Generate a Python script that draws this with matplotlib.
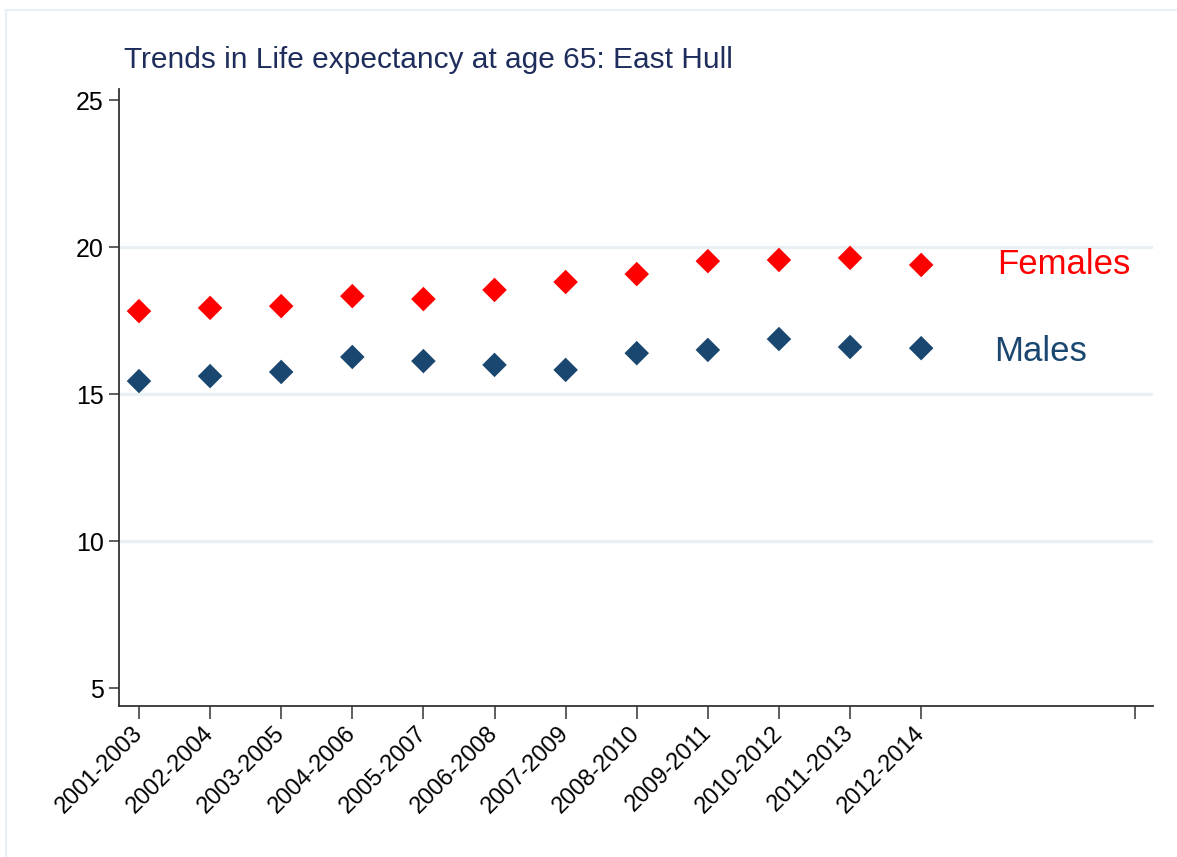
import matplotlib
matplotlib.use("Agg")
import matplotlib.pyplot as plt
from matplotlib.lines import Line2D

periods = ["2001-2003", "2002-2004", "2003-2005", "2004-2006", "2005-2007", "2006-2008",
           "2007-2009", "2008-2010", "2009-2011", "2010-2012", "2011-2013", "2012-2014"]
females = [17.82, 17.93, 17.99, 18.33, 18.23, 18.54, 18.81, 19.08, 19.52, 19.56, 19.63, 19.39]
males = [15.44, 15.61, 15.75, 16.26, 16.12, 15.99, 15.82, 16.39, 16.50, 16.87, 16.60, 16.56]
yticks = [5, 10, 15, 20, 25]
grid_vals = [10, 15, 20]

RED = "#ff0000"
NAVY = "#1a476f"
TITLE = "#1f2d5c"
FRAME = "#e8f0f3"

plt.rcParams['font.family'] = ['Liberation Sans', 'DejaVu Sans']

W, H = 1177, 857
fig = plt.figure(figsize=(W / 100, H / 100), dpi=100)
# outer graph-region border (only top and left visible in the reference)
fig.add_artist(Line2D([6 / W, 1.0], [1 - 10 / H, 1 - 10 / H], transform=fig.transFigure,
                      color=FRAME, linewidth=1.6))
fig.add_artist(Line2D([6 / W, 6 / W], [0.0, 1 - 10 / H], transform=fig.transFigure,
                      color=FRAME, linewidth=1.6))

ax = fig.add_axes([0.1011, 0.1762, 0.8785, 0.7199])

x = list(range(len(periods)))
for g in grid_vals:
    ax.axhline(g, color=FRAME, linewidth=2.2, zorder=0)

ax.scatter(x, females, marker="D", s=12.5**2, color=RED, edgecolors="none", zorder=3)
ax.scatter(x, males, marker="D", s=12.5**2, color=NAVY, edgecolors="none", zorder=3)

ax.text(12.07, females[-1], "Females", color=RED, fontsize=25, va="center", ha="left")
ax.text(12.02, males[-1] - 0.1, "Males", color=NAVY, fontsize=25, va="center", ha="left")

ax.set_xlim(-0.281, 14.26)
ax.set_ylim(4.388, 25.374)
ax.set_yticks(yticks)
ax.set_yticklabels([str(v) for v in yticks], fontsize=18)
ax.set_xticks(x + [14])
ax.set_xticklabels(periods + [""], rotation=45, ha="right", va="center", fontsize=17,
                   rotation_mode="anchor")

for s in ["top", "right"]:
    ax.spines[s].set_visible(False)
for s in ["left", "bottom"]:
    ax.spines[s].set_color("#333333")
    ax.spines[s].set_linewidth(1.3)
ax.tick_params(axis="y", length=7, width=1.1, color="#333333", pad=4)
ax.tick_params(axis="x", length=9, width=1.1, color="#333333", pad=8)

fig.text(124 / W, 1 - 60 / H, "Trends in Life expectancy at age 65: East Hull",
         color=TITLE, fontsize=21.5, va="center", ha="left")

fig.savefig("out.png", dpi=100)
